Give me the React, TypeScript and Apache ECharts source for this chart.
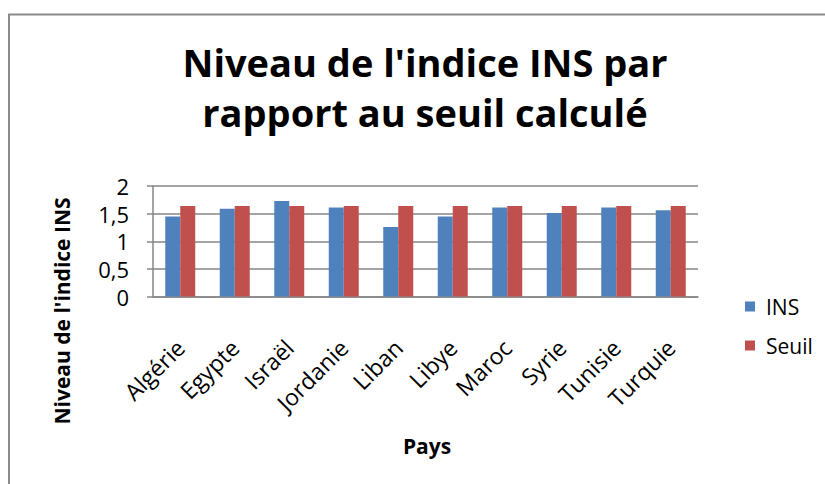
import React, { useEffect, useRef } from "react";
import * as echarts from "echarts";

const categories = ["Algérie", "Egypte", "Israël", "Jordanie", "Liban", "Libye", "Maroc", "Syrie", "Tunisie", "Turquie"];
const insValues = [1.45, 1.59, 1.73, 1.61, 1.26, 1.45, 1.61, 1.51, 1.61, 1.56];
const seuilValues = [1.64, 1.64, 1.64, 1.64, 1.64, 1.64, 1.64, 1.64, 1.64, 1.64];
const titleText = "Niveau de l'indice INS par\nrapport au seuil calculé";
const yAxisTitle = "Niveau de l'indice INS";
const xAxisTitle = "Pays";

const FONT = "'Open Sans', sans-serif";

export default function App() {
  const ref = useRef<HTMLDivElement>(null);
  useEffect(() => {
    if (!ref.current) return;
    const chart = echarts.init(ref.current, null, { renderer: "svg" });
    chart.setOption({
      animation: false,
      backgroundColor: "#ffffff",
      textStyle: { fontFamily: FONT },
      title: {
        text: titleText,
        left: 420,
        textAlign: "center",
        top: 32,
        textStyle: { fontSize: 38, fontWeight: "bold", lineHeight: 50, color: "#000", fontFamily: FONT },
      },
      legend: {
        orient: "vertical",
        left: 740,
        top: 291,
        itemWidth: 10,
        itemHeight: 10,
        itemGap: 18,
        icon: "rect",
        textStyle: { fontSize: 21, color: "#000", fontFamily: FONT, padding: [0, 0, 0, 6] },
        data: ["INS", "Seuil"],
      },
      grid: { left: 153, right: 127, top: 186, height: 110.5, containLabel: false },
      xAxis: {
        type: "category",
        data: categories,
        axisLine: { lineStyle: { color: "#868686", width: 1.5 } },
        axisTick: { show: false },
        axisLabel: {
          rotate: 45,
          fontSize: 23,
          color: "#000",
          margin: 47,
          fontFamily: FONT,
          interval: 0,
        },
      },
      yAxis: {
        type: "value",
        min: 0,
        max: 2,
        interval: 0.5,
        axisLine: { show: true, lineStyle: { color: "#868686", width: 1.5 } },
        axisTick: { show: true, length: 6, lineStyle: { color: "#868686", width: 1.5 } },
        splitLine: { lineStyle: { color: "#868686", width: 1.5 } },
        axisLabel: {
          fontSize: 22,
          color: "#000",
          margin: 24,
          fontFamily: FONT,
          formatter: (v: number) => String(v).replace(".", ","),
        },
      },
      series: [
        {
          name: "INS",
          type: "bar",
          data: insValues,
          barWidth: 15,
          barGap: "0%",
          itemStyle: { color: "#4F81BD" },
        },
        {
          name: "Seuil",
          type: "bar",
          data: seuilValues,
          barWidth: 15,
          barGap: "0%",
          itemStyle: { color: "#C0504D" },
        },
      ],
      graphic: [
        {
          type: "rect",
          shape: { x: 9, y: 14.5, width: 1000, height: 1000 },
          style: { fill: "none", stroke: "#8a8a8a", lineWidth: 2 },
          silent: true,
          z: -1,
        },
        {
          type: "text",
          x: 62,
          y: 311,
          rotation: Math.PI / 2,
          style: {
            text: yAxisTitle,
            fontSize: 21,
            fontWeight: "bold",
            fontFamily: FONT,
            fill: "#000",
            align: "center",
            verticalAlign: "middle",
          },
        },
        {
          type: "text",
          x: 427,
          y: 446,
          style: {
            text: xAxisTitle,
            fontSize: 21,
            fontWeight: "bold",
            fontFamily: FONT,
            fill: "#000",
            align: "center",
            verticalAlign: "middle",
          },
        },
      ],
    });
    return () => chart.dispose();
  }, []);
  return (
    <div
      ref={ref}
      style={{ position: "fixed", left: 0, top: 0, width: 825, height: 484 }}
    />
  );
}
